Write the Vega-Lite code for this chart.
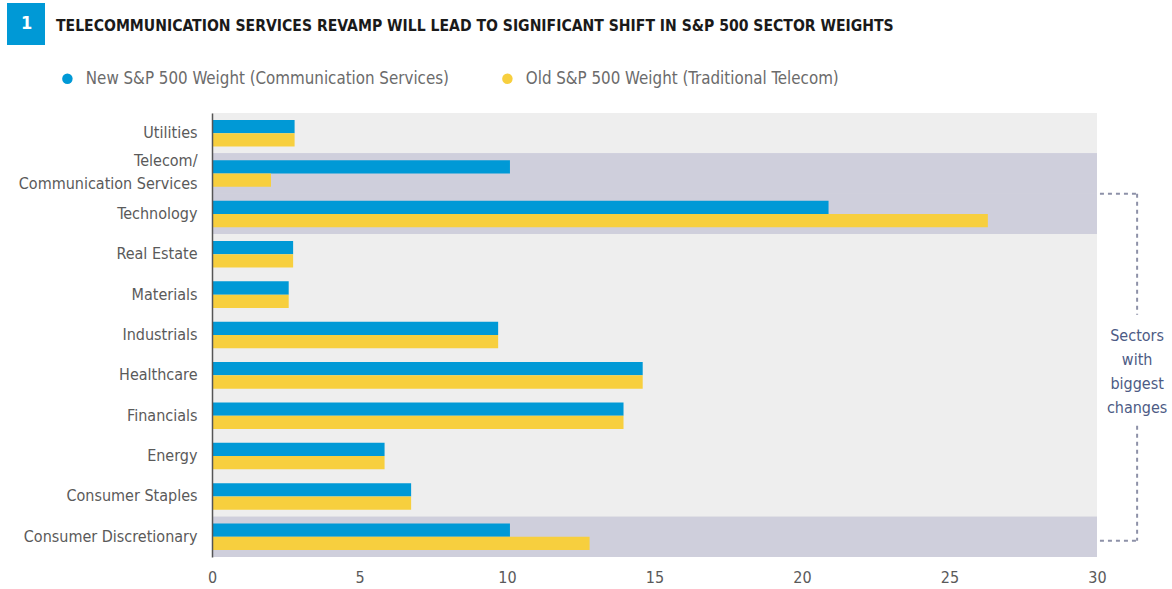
{
  "$schema": "https://vega.github.io/schema/vega-lite/v6.json",
  "width": 885,
  "height": 444,
  "autosize": {"type": "none"},
  "padding": {"left": 212, "top": 113, "right": 75, "bottom": 32},
  "title": {
    "text": "TELECOMMUNICATION SERVICES REVAMP WILL LEAD TO SIGNIFICANT SHIFT IN S&P 500 SECTOR WEIGHTS",
    "anchor": "start",
    "dx": 49,
    "dy": 44,
    "offset": 0,
    "baseline": "alphabetic",
    "font": "DejaVu Sans Condensed, DejaVu Sans, sans-serif",
    "fontSize": 15.6,
    "fontWeight": "bold",
    "color": "#1a1a1a"
  },
  "data": {
    "values": [
      {"sector": "Utilities", "series": "New S&P 500 Weight (Communication Services)", "weight": 2.8, "highlight": false},
      {"sector": "Utilities", "series": "Old S&P 500 Weight (Traditional Telecom)", "weight": 2.8, "highlight": false},
      {"sector": "Telecom/\nCommunication Services", "series": "New S&P 500 Weight (Communication Services)", "weight": 10.1, "highlight": true},
      {"sector": "Telecom/\nCommunication Services", "series": "Old S&P 500 Weight (Traditional Telecom)", "weight": 2.0, "highlight": true},
      {"sector": "Technology", "series": "New S&P 500 Weight (Communication Services)", "weight": 20.9, "highlight": true},
      {"sector": "Technology", "series": "Old S&P 500 Weight (Traditional Telecom)", "weight": 26.3, "highlight": true},
      {"sector": "Real Estate", "series": "New S&P 500 Weight (Communication Services)", "weight": 2.75, "highlight": false},
      {"sector": "Real Estate", "series": "Old S&P 500 Weight (Traditional Telecom)", "weight": 2.75, "highlight": false},
      {"sector": "Materials", "series": "New S&P 500 Weight (Communication Services)", "weight": 2.6, "highlight": false},
      {"sector": "Materials", "series": "Old S&P 500 Weight (Traditional Telecom)", "weight": 2.6, "highlight": false},
      {"sector": "Industrials", "series": "New S&P 500 Weight (Communication Services)", "weight": 9.7, "highlight": false},
      {"sector": "Industrials", "series": "Old S&P 500 Weight (Traditional Telecom)", "weight": 9.7, "highlight": false},
      {"sector": "Healthcare", "series": "New S&P 500 Weight (Communication Services)", "weight": 14.6, "highlight": false},
      {"sector": "Healthcare", "series": "Old S&P 500 Weight (Traditional Telecom)", "weight": 14.6, "highlight": false},
      {"sector": "Financials", "series": "New S&P 500 Weight (Communication Services)", "weight": 13.95, "highlight": false},
      {"sector": "Financials", "series": "Old S&P 500 Weight (Traditional Telecom)", "weight": 13.95, "highlight": false},
      {"sector": "Energy", "series": "New S&P 500 Weight (Communication Services)", "weight": 5.85, "highlight": false},
      {"sector": "Energy", "series": "Old S&P 500 Weight (Traditional Telecom)", "weight": 5.85, "highlight": false},
      {"sector": "Consumer Staples", "series": "New S&P 500 Weight (Communication Services)", "weight": 6.75, "highlight": false},
      {"sector": "Consumer Staples", "series": "Old S&P 500 Weight (Traditional Telecom)", "weight": 6.75, "highlight": false},
      {"sector": "Consumer Discretionary", "series": "New S&P 500 Weight (Communication Services)", "weight": 10.1, "highlight": true},
      {"sector": "Consumer Discretionary", "series": "Old S&P 500 Weight (Traditional Telecom)", "weight": 12.8, "highlight": true}
    ]
  },
  "encoding": {
    "y": {
      "field": "sector",
      "type": "nominal",
      "sort": null,
      "scale": {"paddingInner": 0, "paddingOuter": 0},
      "axis": {
        "title": null,
        "ticks": false,
        "domain": true,
        "domainColor": "#555555",
        "domainWidth": 1.5,
        "labelFont": "DejaVu Sans Condensed, DejaVu Sans, sans-serif",
        "labelFontSize": 16,
        "labelColor": "#5a5a5a",
        "labelPadding": 15,
        "labelLimit": 400,
        "labelLineHeight": 23,
        "labelOffset": {"condition": {"test": "indexof(datum.label, '\\n') >= 0", "value": -12.5}, "value": 0},
        "labelExpr": "split(datum.label, '\\n')"
      }
    }
  },
  "layer": [
    {
      "mark": {"type": "rect"},
      "encoding": {
        "x": {"datum": 0, "type": "quantitative"},
        "x2": {"datum": 30},
        "fill": {"condition": {"test": "datum.highlight", "value": "#cfcfdc"}, "value": "#eeeeee"}
      }
    },
    {
      "mark": {"type": "bar"},
      "encoding": {
        "x": {
          "field": "weight",
          "type": "quantitative",
          "scale": {"domain": [0, 30], "nice": false},
          "axis": {
            "title": null,
            "domain": false,
            "ticks": false,
            "grid": false,
            "labelFlush": false,
            "values": [0, 5, 10, 15, 20, 25, 30],
            "labelFont": "DejaVu Sans Condensed, DejaVu Sans, sans-serif",
            "labelFontSize": 16,
            "labelColor": "#5a5a5a",
            "labelPadding": 12
          }
        },
        "yOffset": {
          "field": "series",
          "type": "nominal",
          "scale": {"paddingInner": 0, "paddingOuter": 0.52}
        },
        "color": {
          "field": "series",
          "type": "nominal",
          "scale": {
            "domain": ["New S&P 500 Weight (Communication Services)", "Old S&P 500 Weight (Traditional Telecom)"],
            "range": ["#0099d6", "#f7cf3e"]
          },
          "legend": {
            "title": null,
            "orient": "none",
            "legendX": -153,
            "legendY": -43,
            "direction": "horizontal",
            "symbolType": "circle",
            "symbolSize": 110,
            "symbolStrokeWidth": 0,
            "labelFont": "DejaVu Sans Condensed, DejaVu Sans, sans-serif",
            "labelFontSize": 16.8,
            "labelColor": "#6b6b6b",
            "labelOffset": 10,
            "labelLimit": 500,
            "columnPadding": 50,
            "padding": 0
          }
        }
      }
    },
    {
      "data": {"values": [{}]},
      "mark": {"type": "rule", "strokeWidth": 2, "color": "#8d91a8"},
      "encoding": {
        "x": {"datum": 30.1, "type": "quantitative"},
        "x2": {"datum": 31.36},
        "y": {"datum": "Technology", "type": "nominal", "bandPosition": 0},
        "strokeDash": {
          "datum": "1",
          "type": "nominal",
          "scale": {"range": [[4, 4]]},
          "legend": {
            "title": null,
            "orient": "none",
            "legendX": -205,
            "legendY": -110,
            "symbolType": "circle",
            "symbolSize": 1,
            "symbolStrokeWidth": 0,
            "symbolOpacity": 0,
            "labelOffset": -16,
            "labelFont": "DejaVu Sans Condensed, DejaVu Sans, sans-serif",
            "labelFontSize": 18,
            "labelFontWeight": "bold",
            "labelColor": "#ffffff",
            "fillColor": "#0099d6",
            "padding": 12
          }
        }
      }
    },
    {
      "data": {"values": [{}]},
      "mark": {"type": "rule", "strokeWidth": 2, "color": "#8d91a8"},
      "encoding": {
        "x": {"datum": 31.36, "type": "quantitative"},
        "y": {"datum": "Technology", "type": "nominal", "bandPosition": 0},
        "y2": {"datum": "Industrials", "bandPosition": 0},
        "strokeDash": {"datum": "1", "type": "nominal"}
      }
    },
    {
      "data": {"values": [{}]},
      "mark": {"type": "rule", "strokeWidth": 2, "color": "#8d91a8"},
      "encoding": {
        "x": {"datum": 31.36, "type": "quantitative"},
        "y": {"datum": "Financials", "type": "nominal", "bandPosition": 0.75},
        "y2": {"datum": "Consumer Discretionary", "bandPosition": 0.6},
        "strokeDash": {"datum": "1", "type": "nominal"}
      }
    },
    {
      "data": {"values": [{}]},
      "mark": {"type": "rule", "strokeWidth": 2, "color": "#8d91a8"},
      "encoding": {
        "x": {"datum": 30.1, "type": "quantitative"},
        "x2": {"datum": 31.36},
        "y": {"datum": "Consumer Discretionary", "type": "nominal", "bandPosition": 0.6},
        "strokeDash": {"datum": "1", "type": "nominal"}
      }
    },
    {
      "data": {"values": [{}]},
      "mark": {
        "type": "text",
        "align": "center",
        "baseline": "middle",
        "font": "DejaVu Sans Condensed, DejaVu Sans, sans-serif",
        "fontSize": 16,
        "lineHeight": 24,
        "color": "#4d5b85"
      },
      "encoding": {
        "x": {"datum": 31.36, "type": "quantitative"},
        "y": {"datum": "Industrials", "type": "nominal", "bandPosition": 0.52},
        "text": {"value": ["Sectors", "with", "biggest", "changes"]}
      }
    }
  ],
  "config": {
    "view": {"fill": "#eeeeee", "stroke": null},
    "font": "DejaVu Sans Condensed, DejaVu Sans, sans-serif"
  }
}
